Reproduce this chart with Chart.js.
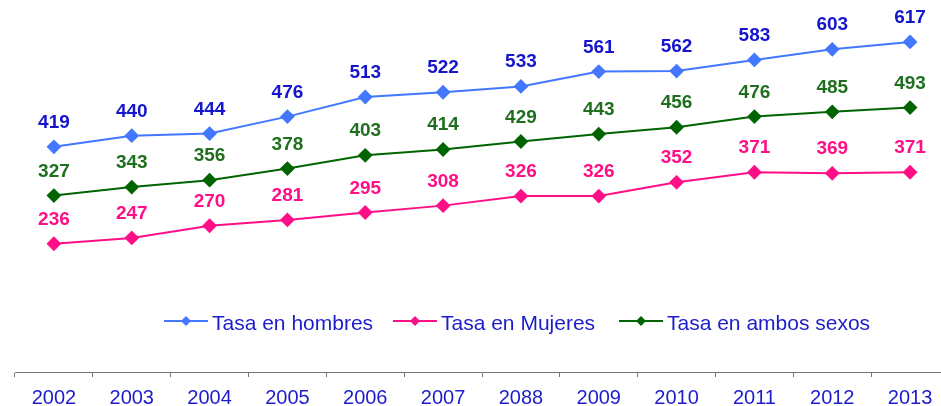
<!DOCTYPE html>
<html>
<head>
<meta charset="utf-8">
<script src="https://cdn.jsdelivr.net/npm/chart.js@4/dist/chart.umd.min.js"></script>
<style>
  html, body { margin: 0; padding: 0; background: #fff; overflow: hidden; }
  #wrap { width: 957px; height: 406px; }
</style>
</head>
<body>
<div id="wrap"><canvas id="myChart" width="957" height="406"></canvas></div>
<script>
// years on the axis (as printed, including 2088)
const years = ['2002', '2003', '2004', '2005', '2006', '2007', '2088', '2009', '2010', '2011', '2012', '2013'];
const tasaHombres = [419, 440, 444, 476, 513, 522, 533, 561, 562, 583, 603, 617];
const tasaMujeres = [236, 247, 270, 281, 295, 308, 326, 326, 352, 371, 369, 371];
const tasaAmbos = [327, 343, 356, 378, 403, 414, 429, 443, 456, 476, 485, 493];

const font = '"Liberation Sans", Arial, sans-serif';

// value labels above each point
const valueLabels = {
    id: 'valueLabels',
    afterDatasetsDraw(chart) {
        const ctx = chart.ctx;
        ctx.save();
        ctx.font = 'bold 19px ' + font;
        ctx.textAlign = 'center';
        ctx.textBaseline = 'alphabetic';
        chart.data.datasets.forEach((ds, i) => {
            const meta = chart.getDatasetMeta(i);
            ctx.fillStyle = ds.labelColor;
            meta.data.forEach((pt, j) => {
                ctx.fillText(ds.data[j], pt.x, pt.y - 19);
            });
        });
        ctx.restore();
    }
};

// legend drawn inside the plot, above the axis
const innerLegend = {
    id: 'innerLegend',
    afterDraw(chart) {
        const ctx = chart.ctx;
        const xs = [164, 393, 619];
        const y = 321;
        ctx.save();
        ctx.font = '21px ' + font;
        ctx.textBaseline = 'alphabetic';
        chart.data.datasets.forEach((ds, i) => {
            const x = xs[i];
            ctx.strokeStyle = ds.borderColor;
            ctx.lineWidth = 2;
            ctx.beginPath();
            ctx.moveTo(x, y);
            ctx.lineTo(x + 44, y);
            ctx.stroke();
            ctx.fillStyle = ds.borderColor;
            ctx.beginPath();
            ctx.moveTo(x + 22, y - 5);
            ctx.lineTo(x + 27, y);
            ctx.lineTo(x + 22, y + 5);
            ctx.lineTo(x + 17, y);
            ctx.closePath();
            ctx.fill();
            ctx.fillStyle = '#1c1ccc';
            ctx.fillText(ds.label, x + 48, y + 9);
        });
        ctx.restore();
    }
};

function serie(label, data, color, labelColor) {
    return {
        label: label,
        data: data,
        borderColor: color,
        backgroundColor: color,
        labelColor: labelColor,
        borderWidth: 2,
        pointStyle: 'rectRot',
        radius: 6,
        hoverRadius: 6,
        tension: 0
    };
}

const ctx = document.getElementById('myChart');
window.myChart = new Chart(ctx, {
    type: 'line',
    data: {
        labels: years,
        datasets: [
            serie('Tasa en hombres', tasaHombres, '#4477ff', '#1515cc'),
            serie('Tasa en Mujeres', tasaMujeres, '#ff0f87', '#ff0f87'),
            serie('Tasa en ambos sexos', tasaAmbos, '#006400', '#1f6f1f')
        ]
    },
    plugins: [valueLabels, innerLegend],
    options: {
        responsive: false,
        animation: false,
        layout: { padding: { top: 1, left: 15, right: 2, bottom: 0 } },
        plugins: {
            legend: { display: false },
            tooltip: { enabled: false }
        },
        scales: {
            x: {
                offset: true,
                afterFit: (s) => { s.height = 34; },
                border: { display: true, color: '#777', width: 1 },
                grid: {
                    offset: true,
                    drawOnChartArea: false,
                    drawTicks: true,
                    tickLength: 5,
                    tickColor: '#777'
                },
                ticks: {
                    color: '#1c1ccc',
                    padding: 9,
                    maxRotation: 0,
                    autoSkip: false,
                    font: { family: font, size: 20 }
                }
            },
            y: {
                display: false,
                min: -6,
                max: 681
            }
        }
    }
});
</script>
</body>
</html>
